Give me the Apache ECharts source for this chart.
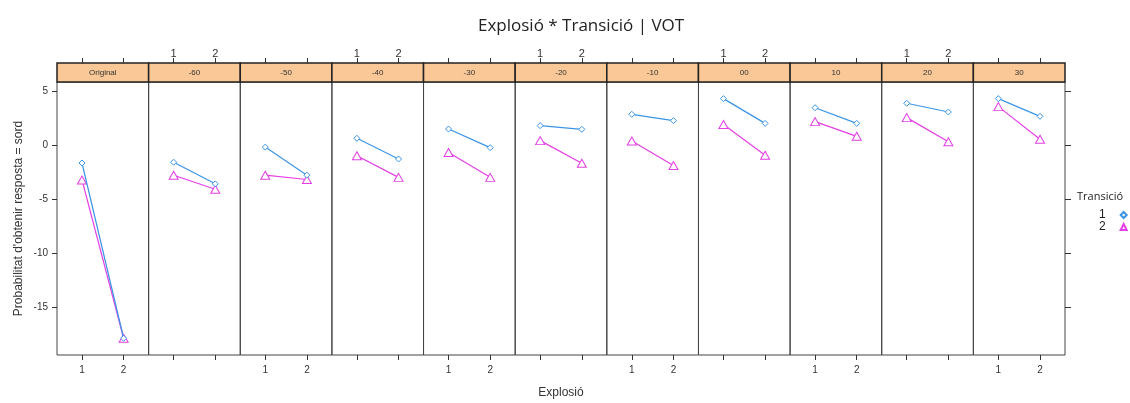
<!DOCTYPE html>
<html>
<head>
<meta charset="utf-8">
<script src="https://cdn.jsdelivr.net/npm/echarts@6/dist/echarts.min.js"></script>
<style>
  html, body { margin: 0; padding: 0; background: #fff; }
  #chart { width: 1130px; height: 403px; }
</style>
</head>
<body>
<div id="chart"></div>
<script>
// Panel (VOT) labels, x categories and y ticks
const panels = ['Original', '-60', '-50', '-40', '-30', '-20', '-10', '00', '10', '20', '30'];
const explosio = [1, 2];
const yTicks = [-15, -10, -5, 0, 5];

// Fitted values per panel: Transició 1 / 2 at Explosió 1 / 2
const trans1Exp1 = [-1.67, -1.6, -0.2, 0.62, 1.48, 1.79, 2.84, 4.29, 3.45, 3.86, 4.29];
const trans1Exp2 = [-17.9, -3.6, -2.8, -1.3, -0.25, 1.45, 2.25, 2.0, 2.0, 3.05, 2.65];
const trans2Exp1 = [-3.24, -2.8, -2.8, -1.0, -0.7, 0.4, 0.37, 1.9, 2.16, 2.53, 3.55];
const trans2Exp2 = [-17.9, -4.1, -3.2, -3.0, -3.0, -1.7, -1.9, -0.95, 0.8, 0.3, 0.53];

const BLUE = '#3b95e5';
const PINK = '#e43ee4';
const STRIP = '#f9c896';
const FONT = '"Liberation Sans", Arial, sans-serif';

// Panel geometry
const L = 57, R = 1065, TOP = 82, BOTTOM = 355, STRIP_H = 19;
const n = panels.length;
const W = (R - L) / n;

const grids = [], xAxes = [], yAxes = [], series = [], graphics = [];

panels.forEach((name, i) => {
  const left = L + i * W;
  grids.push({
    left: left, top: TOP, width: W, height: BOTTOM - TOP,
    show: true, borderColor: '#444', borderWidth: 1, backgroundColor: 'transparent'
  });
  const xBase = {
    type: 'value', gridIndex: i, min: 0.4, max: 2.6,
    splitLine: { show: false },
    axisLine: { show: false, onZero: false }
  };
  // bottom x axis
  xAxes.push(Object.assign({}, xBase, {
    position: 'bottom',
    axisTick: { show: true, customValues: explosio, length: 5, lineStyle: { color: '#333' } },
    axisLabel: { show: i % 2 === 0, customValues: explosio, fontSize: 10, color: '#333', fontFamily: FONT, margin: 10 }
  }));
  // top x axis, above the strip
  xAxes.push(Object.assign({}, xBase, {
    position: 'top', offset: STRIP_H,
    axisTick: { show: true, customValues: explosio, length: 5, lineStyle: { color: '#333' } },
    axisLabel: { show: i % 2 === 1, customValues: explosio, fontSize: 11, color: '#333', fontFamily: FONT, margin: 4 }
  }));
  const yBase = {
    type: 'value', gridIndex: i, min: -19.45, max: 5.83,
    splitLine: { show: false }, axisLine: { show: false, onZero: false }
  };
  if (i === 0) {
    yAxes.push(Object.assign({}, yBase, {
      position: 'left',
      axisTick: { show: true, customValues: yTicks, length: 5, lineStyle: { color: '#333' } },
      axisLabel: { show: true, customValues: yTicks, fontSize: 10, color: '#333', fontFamily: FONT, margin: 9 },
      name: "Probabilitat d'obtenir resposta = sord",
      nameLocation: 'middle', nameGap: 32,
      nameTextStyle: { fontSize: 12, color: '#333', fontFamily: FONT }
    }));
  } else if (i === n - 1) {
    yAxes.push(Object.assign({}, yBase, {
      position: 'right',
      axisTick: { show: true, customValues: yTicks, length: 6, lineStyle: { color: '#333' } },
      axisLabel: { show: false }
    }));
  } else {
    yAxes.push(Object.assign({}, yBase, {
      axisTick: { show: false }, axisLabel: { show: false }
    }));
  }

  // strip with panel label
  graphics.push({
    type: 'rect', z: 10,
    shape: { x: left, y: TOP - STRIP_H, width: W, height: STRIP_H },
    style: { fill: STRIP, stroke: '#222', lineWidth: 1.5 }
  });
  graphics.push({
    type: 'text', z: 11,
    x: left + W / 2, y: TOP - STRIP_H / 2,
    style: { text: name, fill: '#333', font: '8px ' + FONT, textAlign: 'center', textVerticalAlign: 'middle' }
  });

  series.push({
    name: '1', type: 'line', xAxisIndex: 2 * i, yAxisIndex: i,
    data: [[explosio[0], trans1Exp1[i]], [explosio[1], trans1Exp2[i]]],
    symbol: 'diamond', symbolSize: 6, showAllSymbol: true,
    lineStyle: { color: BLUE, width: 1.2 },
    itemStyle: { color: '#fff', borderColor: BLUE, borderWidth: 1 },
    emphasis: { disabled: true }, animation: false, z: 3
  });
  series.push({
    name: '2', type: 'line', xAxisIndex: 2 * i, yAxisIndex: i,
    data: [[explosio[0], trans2Exp1[i]], [explosio[1], trans2Exp2[i]]],
    symbol: 'triangle', symbolSize: [9, 8], showAllSymbol: true,
    lineStyle: { color: PINK, width: 1.2 },
    itemStyle: { color: '#fff', borderColor: PINK, borderWidth: 1 },
    emphasis: { disabled: true }, animation: false, z: 2
  });
});

// x axis title, centred under the panel row
graphics.push({
  type: 'text', x: (L + R) / 2, y: 393,
  style: { text: 'Explosió', fill: '#333', font: '12px ' + FONT, textAlign: 'center', textVerticalAlign: 'middle' }
});
// legend title
graphics.push({
  type: 'text', x: 1077, y: 197,
  style: { text: 'Transició', fill: '#222', font: '11px "Open Sans", sans-serif', textVerticalAlign: 'middle' }
});

const chart = echarts.init(document.getElementById('chart'), null, { renderer: 'canvas' });
chart.setOption({
  animation: false,
  backgroundColor: '#fff',
  title: {
    text: 'Explosió * Transició | VOT',
    left: 473, top: 13,
    textStyle: { fontSize: 17, fontWeight: 'normal', color: '#222', fontFamily: '"Open Sans", "Noto Sans", sans-serif' }
  },
  legend: {
    orient: 'vertical', left: 1094, top: 204,
    align: 'right', itemGap: 0, itemWidth: 6, itemHeight: 6,
    textStyle: { fontSize: 12, lineHeight: 12, color: '#222', fontFamily: FONT, padding: [0, 10, 0, 0] },
    data: [{ name: '1', icon: 'diamond' }, { name: '2', icon: 'triangle' }],
    selectedMode: false
  },
  grid: grids,
  xAxis: xAxes,
  yAxis: yAxes,
  series: series,
  graphic: graphics
});
</script>
</body>
</html>
